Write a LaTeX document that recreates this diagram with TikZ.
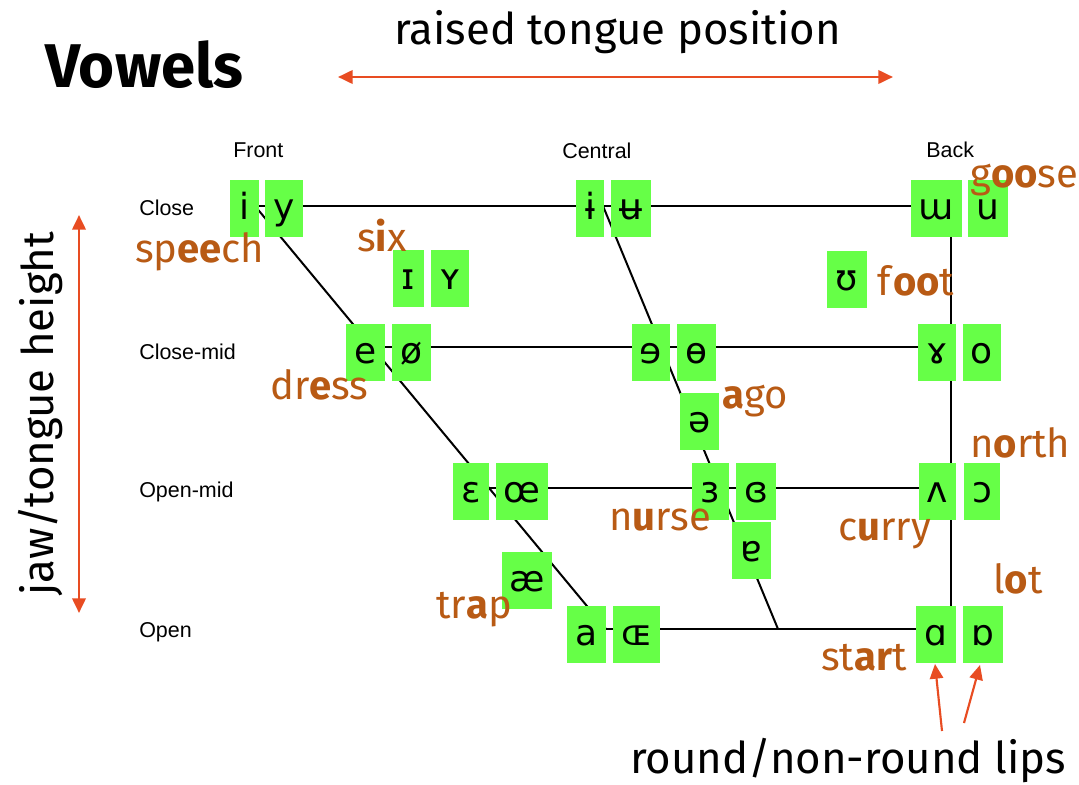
\documentclass[tikz,border=0pt]{standalone}
\usepackage{fontspec}
\setmainfont{Fira Sans}
\newfontfamily\arialf{Liberation Sans}
\newfontfamily\ipaf{DejaVu Sans}
\usetikzlibrary{arrows.meta,calc}
\definecolor{vgreen}{RGB}{102,255,71}
\definecolor{wordc}{RGB}{184,90,20}
\definecolor{arrc}{RGB}{232,76,34}
\begin{document}
\begin{tikzpicture}[x=0.75pt,y=-0.75pt,
  vb/.style={fill=vgreen, inner sep=0pt, minimum height=42.75pt, minimum width={#1*0.75pt},
    text height=17pt, text depth=0pt, font=\ipaf\fontsize{27}{30}\selectfont, anchor=center},
  word/.style={text=wordc, inner sep=0pt, anchor=base west, font=\fontsize{30}{36}\selectfont},
  axis/.style={inner sep=0pt, anchor=base west, font=\arialf\fontsize{16.1}{19}\selectfont},
  big/.style={inner sep=0pt, anchor=base west, font=\fontsize{32.8}{40}\selectfont},
  chart/.style={line width=1.5pt, draw=black},
  dim/.style={draw=arrc, line width=2pt, {Triangle[length=11pt,width=10pt]}-{Triangle[length=11pt,width=10pt]}},
  lip/.style={draw=arrc, line width=1.6pt, -{Triangle[length=11pt,width=10pt]}}
]
\fill[white] (0,0) rectangle (1079,785);
\useasboundingbox (0,0) rectangle (1079,785);

% titles
\node[inner sep=0pt, anchor=base west, font=\bfseries\fontsize{46.3}{55}\selectfont] (title) at (45,87) {Vowels};
\node[big] (raised) at (394,45) {raised tongue position};
\node[big, rotate=90] (jaw) at (53,596) {jaw/tongue height};
\node[big] (lips) at (630,773) {round/non-round lips};

% dimension arrows
\coordinate (hL) at (338,77);
\coordinate (hR) at (893,77);
\draw[dim] (hL) -- (hR);
\coordinate (vT) at (79,215);
\coordinate (vB) at (79,613);
\draw[dim] (vT) -- (vB);

% axis labels
\node[axis] (front) at (233,157) {Front};
\node[axis] (central) at (562,158) {Central};
\node[axis] (back) at (926,157) {Back};
\node[axis] (close) at (139,215) {Close};
\node[axis] (closemid) at (139,359) {Close-mid};
\node[axis] (openmid) at (139,497) {Open-mid};
\node[axis] (open) at (139,637) {Open};

% chart frame
\coordinate (FC) at (255,206);
\coordinate (FO) at (606,629);
\coordinate (CC) at (603,206);
\coordinate (CO) at (778,629);
\coordinate (BC) at (951,206);
\coordinate (BO) at (951,629);
\coordinate (FCM) at ($(FC)!0.3333!(FO)$);
\coordinate (FOM) at ($(FC)!0.6667!(FO)$);
\coordinate (BCM) at ($(BC)!0.3333!(BO)$);
\coordinate (BOM) at ($(BC)!0.6667!(BO)$);
\draw[chart] (FC) -- (BC);
\draw[chart] (FCM) -- (BCM);
\draw[chart] (FOM) -- (BOM);
\draw[chart] (FO) -- (BO);
\draw[chart] (FC) -- (FO);
\draw[chart] (CC) -- (CO);
\draw[chart] (BC) -- (BO);

% vowel boxes
\node[vb=29] (vi) at (244.5,208.5) {i};
\node[vb=38] (vy) at (284,208.5) {y};
\node[vb=28] (vbi) at (590,208.5) {ɨ};
\node[vb=40] (vbu) at (631,208.5) {ʉ};
\node[vb=51] (vmw) at (936.5,208.5) {ɯ};
\node[vb=40] (vu) at (988,208.5) {u};
\node[vb=31] (vsi) at (408.5,278) {ɪ};
\node[vb=38] (vsy) at (450,278) {ʏ};
\node[vb=40] (vup) at (847,279) {ʊ};

\node[vb=39] (ve) at (365.5,352.5) {e};
\node[vb=39] (voe) at (411.5,352.5) {ø};
\node[vb=38] (vre) at (651,352.5) {ɘ};
\node[vb=39] (vbo) at (696.5,352.5) {ɵ};
\node[vb=38] (vrg) at (937,352.5) {ɤ};
\node[vb=38] (vo) at (982,352.5) {o};
\node[vb=39] (vschwa) at (699.5,421.5) {ə};

\node[vb=36] (veps) at (471,491) {ɛ};
\node[vb=52] (voel) at (522,491) {œ};
\node[vb=37] (vreps) at (710.5,491) {ɜ};
\node[vb=40] (vcreps) at (756,491) {ɞ};
\node[vb=37] (vwedge) at (937.5,491) {ʌ};
\node[vb=36] (voo) at (982,491) {ɔ};
\node[vb=39] (vtura) at (751.5,550.5) {ɐ};
\node[vb=50] (vae) at (527,580) {æ};

\node[vb=39] (va) at (586.5,634.5) {a};
\node[vb=47] (voecap) at (636.5,634.5) {ɶ};
\node[vb=40] (valpha) at (936,634.5) {ɑ};
\node[vb=40] (vtalpha) at (983,634.5) {ɒ};

% example words
\node[word] (wspeech) at (135,262) {sp\textbf{ee}ch};
\node[word] (wsix) at (357,251) {s\textbf{i}x};
\node[word] (wgoose) at (970,187) {g\textbf{oo}se};
\node[word] (wfoot) at (877,295) {f\textbf{oo}t};
\node[word] (wdress) at (270,399) {dr\textbf{e}ss};
\node[word] (wago) at (722,408) {\textbf{a}go};
\node[word] (wnorth) at (970,457) {n\textbf{o}rth};
\node[word] (wnurse) at (609,530) {n\textbf{u}rse};
\node[word] (wcurry) at (838,540) {c\textbf{u}rry};
\node[word] (wtrap) at (436,618) {tr\textbf{a}p};
\node[word] (wlot) at (993,593) {l\textbf{o}t};
\node[word] (wstart) at (821,670) {st\textbf{ar}t};

% lip arrows
\coordinate (la) at (942,731);
\coordinate (lb) at (964,723);
\coordinate (ta) at (935,664);
\coordinate (tb) at (980,665);
\draw[lip] (la) -- (ta);
\draw[lip] (lb) -- (tb);
\end{tikzpicture}
\end{document}
